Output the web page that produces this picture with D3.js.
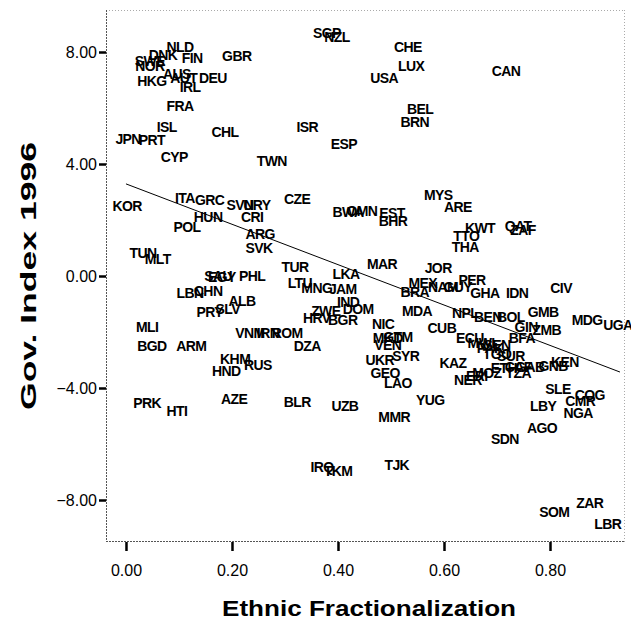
<!DOCTYPE html>
<html>
<head>
<meta charset="utf-8">
<script src="https://cdn.jsdelivr.net/npm/d3@7"></script>
<style>
  html, body { margin: 0; padding: 0; background: #fff; }
  svg { display: block; }
  .code { font-family: "Liberation Sans", Arial, sans-serif; font-weight: bold; font-size: 14px; letter-spacing: -0.6px; fill: #000; }
  .tick-label { font-family: "Liberation Sans", Arial, sans-serif; font-size: 16px; fill: #000; }
  .axis-title { font-family: "Liberation Sans", Arial, sans-serif; font-weight: bold; font-size: 22px; fill: #000; }
</style>
</head>
<body>
<svg id="chart" width="631" height="623"></svg>
<script>
// Country codes with ethnic fractionalization (x) and governance index 1996 (y)
const codes = ["NLD","DNK","FIN","GBR","SWE","NOR","AUS","AUT","HKG","IRL","DEU","FRA","ISL","CHL","JPN","PRT","CYP","TWN",
  "SGP","NZL","CHE","LUX","USA","BEL","BRN","ISR","ESP","CAN",
  "KOR","ITA","GRC","SVN","URY","HUN","CRI","POL","ARG","SVK","TUN","MLT","SAU","EGY","PHL","LBN","CHN","ALB","PRY","SLV",
  "MLI","BGD","ARM","VNM","IRN","ROM","KHM","HND","RUS","PRK","HTI","AZE",
  "CZE","MYS","ARE","BWA","OMN","EST","BHR","TUR","LKA","MAR","JOR","LTU","MNG","JAM","BRA","MEX","NAM","GUY","PER",
  "IND","DOM","ZWE","HRV","BGR","DZA","NIC","MDA","CUB","MKD","GTM","VEN","SYR","UKR","KAZ","GEO","LAO",
  "BLR","UZB","YUG","MMR","IRQ","TKM","TJK",
  "KWT","TTO","THA","QAT","ZAF","GHA","IDN","CIV","GMB","MDG","UGA","ZMB","GIN","NPL","BEN","BOL","BFA","ECU",
  "MWI","PAK","SEN","TGO","SUR","ETH","CAF","GAB","GNB","KEN","TZA","MOZ","ERI","NER",
  "SLE","COG","CMR","LBY","NGA","AGO","SDN","ZAR","SOM","LBR"];

const ethnic = [0.102,0.070,0.125,0.209,0.045,0.045,0.096,0.109,0.049,0.121,0.164,0.102,0.077,0.187,0.004,0.049,0.091,0.275,
  0.379,0.398,0.532,0.538,0.487,0.555,0.545,0.342,0.411,0.717,
  0.002,0.111,0.158,0.215,0.247,0.155,0.238,0.115,0.253,0.251,0.032,0.060,0.174,0.181,0.238,0.121,0.155,0.219,0.158,0.192,
  0.040,0.049,0.123,0.234,0.268,0.304,0.206,0.189,0.249,0.040,0.096,0.204,
  0.323,0.589,0.626,0.419,0.445,0.502,0.504,0.319,0.415,0.483,0.589,0.328,0.360,0.409,0.545,0.560,0.598,0.626,0.653,
  0.419,0.438,0.377,0.360,0.409,0.342,0.485,0.549,0.596,0.494,0.513,0.494,0.528,0.479,0.617,0.489,0.513,
  0.323,0.413,0.574,0.506,0.370,0.400,0.511,
  0.668,0.642,0.640,0.740,0.749,0.677,0.738,0.821,0.787,0.870,0.928,0.794,0.755,0.640,0.683,0.726,0.747,0.649,
  0.670,0.687,0.700,0.700,0.726,0.713,0.740,0.762,0.806,0.828,0.740,0.681,0.662,0.645,
  0.815,0.875,0.857,0.787,0.853,0.785,0.715,0.875,0.808,0.909];

const govIndex = [8.18,7.89,7.79,7.86,7.68,7.50,7.21,7.07,6.96,6.75,7.07,6.07,5.32,5.14,4.89,4.86,4.25,4.11,
  8.68,8.54,8.18,7.50,7.07,5.96,5.50,5.32,4.71,7.32,
  2.50,2.79,2.71,2.54,2.54,2.11,2.11,1.75,1.50,1.00,0.82,0.61,0.00,-0.04,0.00,-0.61,-0.54,-0.89,-1.29,-1.18,
  -1.82,-2.50,-2.50,-2.04,-2.04,-2.04,-2.96,-3.39,-3.18,-4.54,-4.82,-4.39,
  2.75,2.89,2.46,2.29,2.32,2.25,1.96,0.32,0.07,0.43,0.29,-0.25,-0.43,-0.46,-0.57,-0.25,-0.39,-0.39,-0.14,
  -0.93,-1.18,-1.25,-1.50,-1.57,-2.50,-1.71,-1.25,-1.86,-2.21,-2.18,-2.46,-2.86,-3.00,-3.11,-3.46,-3.82,
  -4.50,-4.64,-4.43,-5.04,-6.82,-6.96,-6.75,
  1.71,1.43,1.04,1.79,1.64,-0.61,-0.61,-0.43,-1.29,-1.57,-1.75,-1.93,-1.82,-1.32,-1.46,-1.46,-2.21,-2.21,
  -2.39,-2.57,-2.46,-2.79,-2.86,-3.29,-3.25,-3.25,-3.21,-3.07,-3.46,-3.46,-3.57,-3.71,
  -4.04,-4.25,-4.46,-4.64,-4.89,-5.43,-5.82,-8.11,-8.43,-8.86];

// Axis ticks
const xTicks = [0.0, 0.2, 0.4, 0.6, 0.8];
const yTicks = [8, 4, 0, -4, -8];

// Fitted linear trend (intercept, slope) over the observed range
const fitIntercept = 3.29;
const fitSlope = -7.21;
const fitRange = [0.0, 0.932];

const svg = d3.select("#chart");
const plotLeft = 106, plotRight = 625, plotTop = 10, plotBottom = 542;

const x = d3.scaleLinear().domain([-0.0377, 0.9415]).range([plotLeft, plotRight]);
const y = d3.scaleLinear().domain([-9.5, 9.5]).range([plotBottom, plotTop]);

svg.append("rect").attr("width", 631).attr("height", 623).attr("fill", "#fff");

// Plot frame: faint dotted top/right, darker left/bottom
svg.append("line").attr("x1", plotLeft).attr("x2", plotRight).attr("y1", plotTop + 0.5).attr("y2", plotTop + 0.5)
  .attr("stroke", "#aaa").attr("stroke-dasharray", "1,2");
svg.append("line").attr("x1", plotRight - 0.5).attr("x2", plotRight - 0.5).attr("y1", plotTop).attr("y2", plotBottom)
  .attr("stroke", "#aaa").attr("stroke-dasharray", "1,2");
svg.append("line").attr("x1", plotLeft + 0.5).attr("x2", plotLeft + 0.5).attr("y1", plotTop).attr("y2", plotBottom)
  .attr("stroke", "#555").attr("stroke-dasharray", "2,1");
svg.append("line").attr("x1", plotLeft).attr("x2", plotRight).attr("y1", plotBottom - 0.5).attr("y2", plotBottom - 0.5)
  .attr("stroke", "#555").attr("stroke-dasharray", "2,1");

// Axes
const xAxis = d3.axisBottom(x).tickValues(xTicks).tickFormat(d3.format(".2f")).tickSize(9).tickPadding(14);
const gx = svg.append("g").attr("transform", `translate(0,${plotBottom})`).call(xAxis);
gx.select(".domain").remove();
gx.selectAll(".tick line").attr("stroke", "#000").attr("stroke-width", 2.5);
gx.selectAll(".tick text").attr("class", "tick-label").attr("font-size", null).attr("font-family", null);

const yAxis = d3.axisLeft(y).tickValues(yTicks).tickFormat(d3.format(".2f")).tickSize(7).tickPadding(2);
const gy = svg.append("g").attr("transform", `translate(${plotLeft},0)`).call(yAxis);
gy.select(".domain").remove();
gy.selectAll(".tick line").attr("stroke", "#000").attr("stroke-width", 2.5);
gy.selectAll(".tick text").attr("class", "tick-label").attr("font-size", null).attr("font-family", null);

// Trend line
svg.append("line")
  .attr("x1", x(fitRange[0])).attr("y1", y(fitIntercept + fitSlope * fitRange[0]))
  .attr("x2", x(fitRange[1])).attr("y2", y(fitIntercept + fitSlope * fitRange[1]))
  .attr("stroke", "#000").attr("stroke-width", 1);

// Country labels drawn at each point
svg.append("g").selectAll("text")
  .data(codes.map((c, i) => ({ code: c, ef: ethnic[i], gov: govIndex[i] })))
  .join("text")
  .attr("class", "code")
  .attr("x", d => x(d.ef))
  .attr("y", d => y(d.gov))
  .attr("dy", "0.36em")
  .attr("text-anchor", "middle")
  .text(d => d.code);

// Axis titles
svg.append("text").attr("class", "axis-title")
  .attr("x", 369).attr("y", 616).attr("text-anchor", "middle")
  .attr("textLength", 294).attr("lengthAdjust", "spacingAndGlyphs")
  .text("Ethnic Fractionalization");

svg.append("text").attr("class", "axis-title")
  .attr("transform", "translate(36,276) rotate(-90)")
  .attr("text-anchor", "middle")
  .attr("textLength", 268).attr("lengthAdjust", "spacingAndGlyphs")
  .text("Gov. Index 1996");
</script>
</body>
</html>
